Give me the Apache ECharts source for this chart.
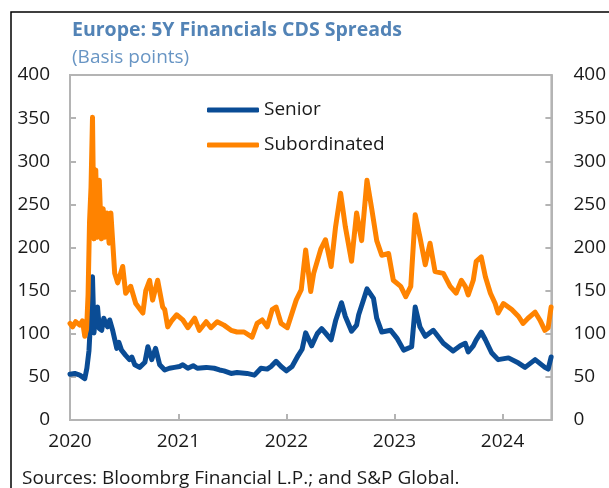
<!DOCTYPE html>
<html>
<head>
<meta charset="utf-8">
<script src="https://cdn.jsdelivr.net/npm/echarts@6/dist/echarts.min.js"></script>
<style>
  html, body { margin: 0; padding: 0; background: #fff; }
</style>
</head>
<body>
<div id="chart" style="width: 609px; height: 488px"></div>
<script>
// senior 5Y CDS (bp)
const seniorDates = [
  "2020-01-01", "2020-01-17", "2020-02-03", "2020-02-20", "2020-02-27", "2020-03-05",
  "2020-03-11", "2020-03-17", "2020-03-22", "2020-03-28", "2020-04-03", "2020-04-09",
  "2020-04-17", "2020-04-24", "2020-05-01", "2020-05-07", "2020-05-14", "2020-05-24",
  "2020-06-07", "2020-06-14", "2020-06-23", "2020-07-07", "2020-07-20", "2020-07-28",
  "2020-08-07", "2020-08-23", "2020-09-10", "2020-09-20", "2020-10-03", "2020-10-16",
  "2020-10-30", "2020-11-16", "2020-12-02", "2020-12-19", "2021-01-05", "2021-01-16",
  "2021-02-02", "2021-02-20", "2021-03-06", "2021-04-05", "2021-05-02", "2021-05-20",
  "2021-06-04", "2021-06-28", "2021-07-18", "2021-08-21", "2021-09-15", "2021-10-07",
  "2021-10-28", "2021-11-10", "2021-11-27", "2021-12-14", "2022-01-01", "2022-01-20",
  "2022-02-10", "2022-02-23", "2022-03-07", "2022-03-27", "2022-04-15", "2022-04-30",
  "2022-05-15", "2022-06-01", "2022-06-16", "2022-07-06", "2022-07-19", "2022-08-09",
  "2022-08-26", "2022-09-02", "2022-09-19", "2022-09-30", "2022-10-06", "2022-10-22",
  "2022-11-02", "2022-11-19", "2022-12-19", "2023-01-09", "2023-02-01", "2023-02-28",
  "2023-03-12", "2023-03-28", "2023-04-15", "2023-05-12", "2023-06-15", "2023-07-18",
  "2023-08-11", "2023-08-28", "2023-09-07", "2023-09-24", "2023-10-04", "2023-10-21",
  "2023-11-04", "2023-11-25", "2023-12-17", "2024-01-21", "2024-02-24", "2024-03-17",
  "2024-04-20", "2024-05-23", "2024-06-03", "2024-06-13"
];
const seniorValues = [
  53, 54, 52, 48, 60, 80,
  118, 166, 101, 125, 131, 106,
  104, 118, 112, 108, 116, 104,
  83, 90, 81, 75, 70, 73,
  64, 61, 67, 85, 70, 83,
  64, 58, 60, 61, 62, 64,
  60, 63, 60, 61, 60, 58,
  57, 54, 55, 54, 52, 60,
  59, 62, 68, 62, 57, 62,
  75, 82, 101, 86, 100, 106,
  100, 93, 115, 136, 120, 103,
  110, 122, 140, 152, 150, 141,
  118, 102, 104, 95, 81, 85,
  131, 108, 97, 104, 89, 80,
  86, 89, 79, 86, 93, 102,
  93, 78, 70, 72, 66, 61,
  70, 61, 59, 73
];

// subordinated 5Y CDS (bp)
const subDates = [
  "2020-01-01", "2020-01-10", "2020-01-20", "2020-02-03", "2020-02-12", "2020-02-20",
  "2020-02-26", "2020-03-02", "2020-03-07", "2020-03-12", "2020-03-17", "2020-03-22",
  "2020-03-28", "2020-04-03", "2020-04-09", "2020-04-16", "2020-04-22", "2020-04-28",
  "2020-05-05", "2020-05-12", "2020-05-18", "2020-05-31", "2020-06-10", "2020-06-27",
  "2020-07-07", "2020-07-24", "2020-08-10", "2020-09-03", "2020-09-13", "2020-09-26",
  "2020-10-06", "2020-10-23", "2020-11-09", "2020-11-16", "2020-11-26", "2020-12-09",
  "2020-12-26", "2021-01-16", "2021-02-02", "2021-02-25", "2021-03-13", "2021-04-05",
  "2021-04-21", "2021-05-12", "2021-06-04", "2021-06-28", "2021-07-18", "2021-08-11",
  "2021-09-07", "2021-09-24", "2021-10-11", "2021-10-28", "2021-11-14", "2021-11-27",
  "2021-12-14", "2022-01-04", "2022-02-03", "2022-02-20", "2022-03-07", "2022-03-24",
  "2022-04-03", "2022-04-27", "2022-05-13", "2022-06-01", "2022-06-16", "2022-07-03",
  "2022-07-19", "2022-08-09", "2022-08-26", "2022-09-12", "2022-09-30", "2022-10-16",
  "2022-11-02", "2022-11-19", "2022-12-12", "2022-12-28", "2023-01-22", "2023-02-08",
  "2023-02-25", "2023-03-12", "2023-03-28", "2023-04-15", "2023-05-01", "2023-05-18",
  "2023-06-15", "2023-07-08", "2023-07-28", "2023-08-15", "2023-08-28", "2023-09-07",
  "2023-09-24", "2023-10-04", "2023-10-21", "2023-11-04", "2023-11-21", "2023-12-07",
  "2023-12-17", "2024-01-04", "2024-02-01", "2024-02-24", "2024-03-10", "2024-03-27",
  "2024-04-20", "2024-05-06", "2024-05-23", "2024-06-03", "2024-06-13"
];
const subValues = [
  112, 108, 114, 110, 115, 97,
  105, 145, 230, 270, 351, 210,
  290, 212, 278, 210, 245, 212,
  240, 205, 240, 170, 159, 178,
  147, 155, 135, 124, 150, 162,
  139, 162, 131, 128, 108, 115,
  122, 116, 107, 118, 104, 114,
  107, 114, 110, 104, 102, 102,
  96, 112, 116, 108, 128, 131,
  112, 107, 139, 151, 197, 149,
  170, 198, 209, 178, 224, 263,
  224, 184, 240, 208, 278, 245,
  208, 191, 193, 162, 155, 143,
  155, 238, 212, 180, 205, 172,
  170, 155, 147, 162, 155, 145,
  162, 184, 189, 166, 147, 135,
  124, 135, 128, 120, 112, 118,
  125, 116, 104, 107, 131
];

const yTicks = [0, 50, 100, 150, 200, 250, 300, 350, 400];

const chartDom = document.getElementById("chart");
const myChart = echarts.init(chartDom);

const font = "'Open Sans', 'Noto Sans', sans-serif";
const gray = "#b4b4b4";

const yAxisCommon = {
  type: "value",
  min: yTicks[0],
  max: yTicks[yTicks.length - 1],
  interval: 50,
  splitLine: { show: false },
  axisLine: { show: true, lineStyle: { color: gray, width: 2 } },
  axisTick: { show: true, inside: true, length: 6, lineStyle: { color: gray, width: 2 } }
};

const option = {
  animation: false,
  textStyle: { fontFamily: font },
  title: {
    text: "Europe: 5Y Financials CDS Spreads",
    subtext: "(Basis points)",
    left: 67,
    top: 15,
    itemGap: 8,
    textStyle: { fontFamily: font, fontSize: 19.5, fontWeight: "bold", color: "#5283b6" },
    subtextStyle: { fontFamily: font, fontSize: 19, color: "#6895c4" }
  },
  legend: {
    orient: "vertical",
    left: 207,
    top: 100,
    padding: 0,
    itemWidth: 52,
    itemHeight: 5,
    itemGap: 15,
    icon: "roundRect",
    textStyle: { fontFamily: font, fontSize: 19, color: "#1a1a1a", lineHeight: 20 },
    data: ["Senior", "Subordinated"]
  },
  grid: {
    left: 70,
    right: 56,
    top: 75,
    bottom: 68,
    show: true,
    borderColor: gray,
    borderWidth: 2
  },
  xAxis: {
    type: "time",
    min: "2020-01-01",
    max: "2024-06-14",
    minInterval: 365 * 24 * 3600 * 1000,
    splitLine: { show: false },
    axisLine: { show: true, lineStyle: { color: gray, width: 2 } },
    axisTick: { show: true, inside: true, length: 6, lineStyle: { color: gray, width: 2 } },
    axisLabel: {
      formatter: "{yyyy}",
      fontSize: 19,
      color: "#1a1a1a",
      margin: 12,
      showMaxLabel: false,
      hideOverlap: false
    }
  },
  yAxis: [
    Object.assign({}, yAxisCommon, {
      position: "left",
      axisLabel: { fontSize: 19, color: "#1a1a1a", margin: 20 }
    }),
    Object.assign({}, yAxisCommon, {
      position: "right",
      axisLabel: { fontSize: 19, color: "#1a1a1a", margin: 22 }
    })
  ],
  series: [
    {
      name: "Senior",
      type: "line",
      showSymbol: false,
      color: "#0a4c95",
      lineStyle: { width: 5, color: "#0a4c95", join: "round", cap: "round" },
      data: seniorDates.map((d, i) => [d, seniorValues[i]])
    },
    {
      name: "Subordinated",
      type: "line",
      showSymbol: false,
      color: "#ff8300",
      lineStyle: { width: 5, color: "#ff8300", join: "round", cap: "round" },
      data: subDates.map((d, i) => [d, subValues[i]])
    }
  ],
  graphic: [
    {
      // outer black frame, only top and left edges fall inside the picture
      type: "rect",
      shape: { x: 11, y: 12, width: 700, height: 600 },
      style: { fill: null, stroke: "#000", lineWidth: 1.5 },
      silent: true
    },
    {
      type: "text",
      left: 22,
      top: 469,
      style: {
        text: "Sources: Bloombrg Financial L.P.; and S&P Global.",
        font: "19px " + font,
        fill: "#1a1a1a"
      }
    }
  ]
};

myChart.setOption(option);
</script>
</body>
</html>
